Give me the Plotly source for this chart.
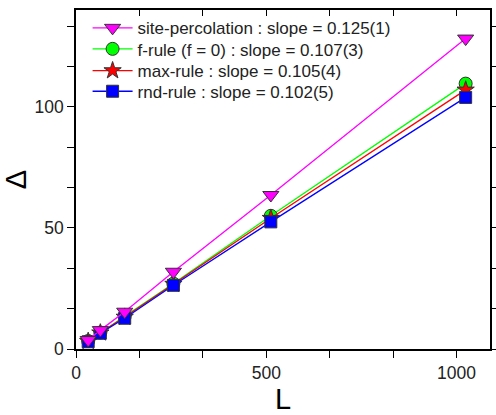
import plotly.graph_objects as go

L = [32, 64, 128, 256, 512, 1024]
site_perc = [3.7, 7.8, 15.4, 31.9, 63.6, 128.2]
f_rule = [3.3, 6.8, 13.5, 27.0, 55.0, 109.6]
max_rule = [3.2, 6.7, 13.2, 26.8, 54.0, 107.0]
rnd_rule = [3.0, 6.5, 12.7, 26.3, 52.5, 103.9]

names = ["site-percolation : slope = 0.125(1)",
         "f-rule (f = 0) : slope = 0.107(3)",
         "max-rule : slope = 0.105(4)",
         "rnd-rule : slope = 0.102(5)"]

FONT = "Liberation Sans, Arial, sans-serif"

fig = go.Figure()
# (values, name, colour, symbol, size, legend id, legend row y)
series = [
    (f_rule, names[1], "#00FF00", "circle", 13, "legend2", 0.884),
    (max_rule, names[2], "#FF0000", "star", 13, "legend3", 0.820),
    (rnd_rule, names[3], "#0000FF", "square", 12, "legend4", 0.759),
    (site_perc, names[0], "#FF00FF", "triangle-down", 14, "legend", 0.946),
]
legend_layouts = {}
for ys, nm, col, sym, sz, lg, ly in series:
    fig.add_trace(go.Scatter(
        x=L, y=ys, name=nm, mode="lines+markers",
        line=dict(color=col, width=1.3),
        marker=dict(symbol=sym, size=sz, color=col,
                    line=dict(color="#333333", width=1)),
        legend=lg,
    ))
    legend_layouts[lg] = dict(x=0.028, y=ly, xanchor="left", yanchor="middle",
                              bgcolor="rgba(0,0,0,0)", borderwidth=0,
                              font=dict(family=FONT, size=17, color="#222"),
                              itemwidth=40)

fig.add_trace(go.Scatter(x=[], y=[], xaxis="x2", yaxis="y",
                         showlegend=False, hoverinfo="skip"))

axis_common = dict(showgrid=False, zeroline=False, showline=True,
                   linecolor="black", linewidth=1.5,
                   tickcolor="black", tickwidth=1.2, automargin=False,
                   tickfont=dict(family=FONT, size=17.5, color="#222"))

fig.update_layout(
    width=496, height=415,
    margin=dict(l=76, r=6, t=10, b=66),
    paper_bgcolor="white", plot_bgcolor="white",
    font=dict(family=FONT, color="black"),
    xaxis=dict(range=[0, 1088], dtick=500, tick0=0, ticks="outside", ticklen=7,
               mirror=True,
               minor=dict(dtick=500/3, tick0=0, ticks="outside", ticklen=7,
                          tickcolor="black", tickwidth=1.2),
               title=dict(text="L", font=dict(family=FONT, size=29), standoff=13),
               **axis_common),
    xaxis2=dict(range=[0, 1088], overlaying="x", side="top", matches="x",
                dtick=500, tick0=0, ticks="inside", ticklen=6,
                showticklabels=False, showgrid=False, zeroline=False,
                showline=False, tickcolor="black", tickwidth=1.2,
                minor=dict(dtick=500/3, tick0=0, ticks="inside", ticklen=6,
                           tickcolor="black", tickwidth=1.2)),
    yaxis=dict(range=[0, 140], dtick=50, tick0=0, ticks="outside", ticklen=7,
               mirror="allticks",
               minor=dict(dtick=50/3, tick0=0, ticks="outside", ticklen=7,
                          tickcolor="black", tickwidth=1.2),
               title=dict(text="Δ", font=dict(family=FONT, size=29), standoff=12),
               **axis_common),
    showlegend=True,
    **legend_layouts,
)

fig.write_html("out.html", config={"displayModeBar": False},
               post_script="document.body.style.margin='0';")
